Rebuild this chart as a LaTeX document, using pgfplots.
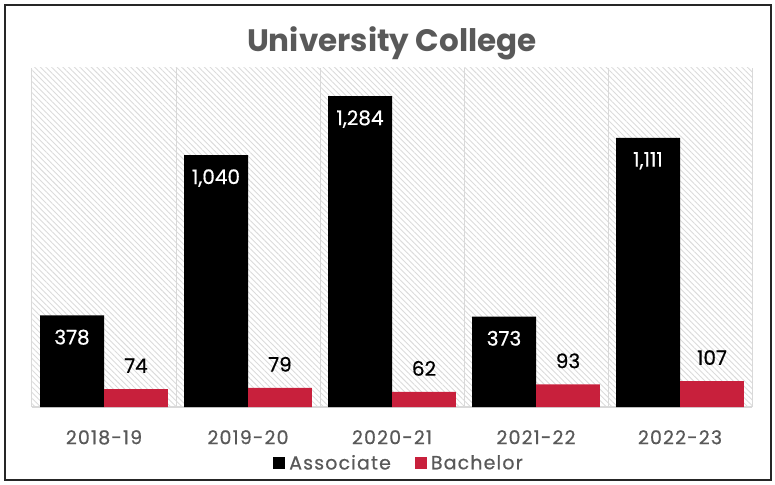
\documentclass[border=0pt]{standalone}
\usepackage{fontspec}
\setmainfont{Poppins}
\newfontfamily\medfont{Poppins}[FakeBold=0.6]
\newfontfamily\medwide{Poppins}[FakeBold=0.6, LetterSpace=6]
\usepackage{pgfplots}
\pgfplotsset{compat=1.18}
\usetikzlibrary{patterns.meta}
\definecolor{txtgray}{HTML}{595959}
\definecolor{barred}{RGB}{200,32,60}
\definecolor{gridgray}{HTML}{D9D9D9}
\begin{document}
\begin{tikzpicture}
\begin{axis}[
  scale only axis, width=720bp, height=339bp,
  at={(0,0)}, anchor=south west,
  xmin=-0.5, xmax=4.5, ymin=0, ymax=1400,
  ybar,
  ytick=\empty,
  xtick={0,1,2,3,4},
  xticklabels={2018-19,2019-20,2020-21,2021-22,2022-23},
  major tick length=0pt, minor tick length=0pt,
  xticklabel style={font=\medwide\fontsize{19bp}{20bp}\selectfont, text=txtgray, anchor=north, inner sep=0pt, yshift=-23bp},
  minor xtick={-0.5,0.5,1.5,2.5,3.5,4.5},
  xminorgrids, minor grid style={gridgray, line width=1bp},
  extra y ticks={0}, extra y tick labels={},
  extra y tick style={grid=major, major grid style={gridgray, line width=1.2bp}},
  axis line style={draw=none},
  axis background/.style={pattern={Lines[angle=-45,distance=4bp,line width=0.9bp]}, pattern color=gray!28},
  /pgf/number format/.cd, fixed, precision=0, 1000 sep={,}, assume math mode=true,
  /pgfplots/.cd,
  legend columns=2,
  legend style={at={(0.5,0)}, anchor=center, yshift=-56bp, xshift=8bp, draw=none, fill=none,
    font=\medwide\fontsize{19bp}{20bp}\selectfont, text=txtgray,
    /tikz/every even column/.append style={column sep=20bp},
    /tikz/every odd column/.append style={column sep=0bp},
    nodes={inner xsep=4bp}},
  legend image code/.code={\fill[#1] (0bp,-6bp) rectangle (12bp,6bp);},
]
\addplot[fill=black, draw=none, bar width=0.4444, bar shift=-0.2222,
  nodes near coords,
  every node near coord/.append style={text=white, anchor=north, inner sep=0pt, yshift=-14bp, font=\medfont\fontsize{20bp}{22bp}\selectfont}]
  coordinates {(0,378) (1,1040) (2,1284) (3,373) (4,1111)};
\addlegendentry{Associate}
\addplot[fill=barred, draw=none, bar width=0.4444, bar shift=0.2222,
  nodes near coords,
  every node near coord/.append style={text=black, anchor=south, inner sep=0pt, yshift=16bp, font=\medfont\fontsize{20bp}{22bp}\selectfont}]
  coordinates {(0,74) (1,79) (2,62) (3,93) (4,107)};
\addlegendentry{Bachelor}
\end{axis}
\node[anchor=base, font=\bfseries\fontsize{31bp}{34bp}\selectfont, text=txtgray] at (360bp,355bp) {University College};
\draw[line width=1.5bp, black!85] (-27bp,-73bp) rectangle (739bp,402bp);
\pgfresetboundingbox
\path[use as bounding box] (-32bp,-78bp) rectangle (743bp,407bp);
\end{tikzpicture}
\end{document}
